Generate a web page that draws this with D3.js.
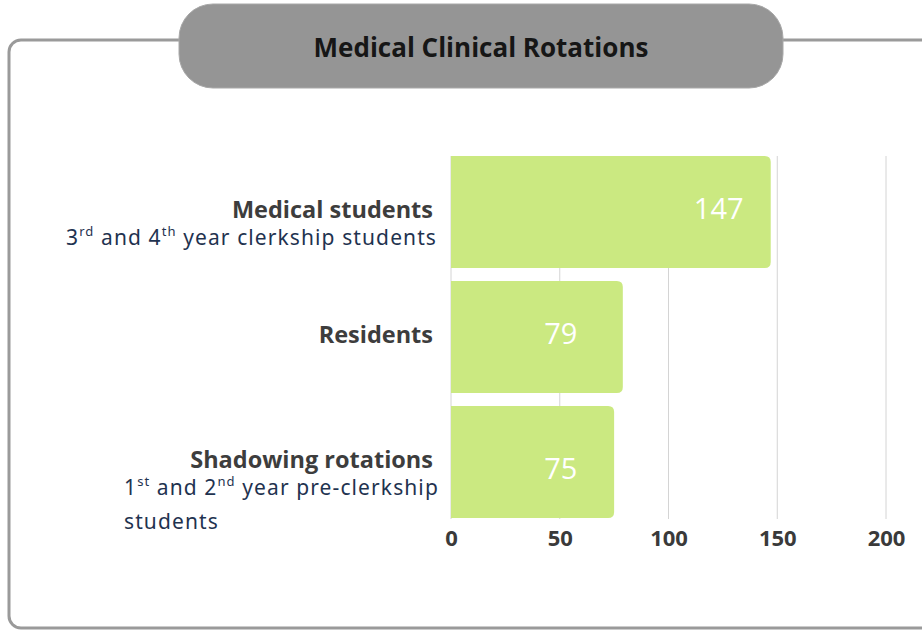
<!DOCTYPE html>
<html><head><meta charset="utf-8">
<script src="https://cdn.jsdelivr.net/npm/d3@7"></script>
<style>
html,body{margin:0;padding:0;background:#fff;overflow:hidden}
svg{display:block}
</style></head>
<body>
<svg id="c" width="922" height="630"></svg>
<script>
const title = "Medical Clinical Rotations";
const categories = ["Medical students", "Residents", "Shadowing rotations"];
const subLabels = [
  [["3", "rd"], [" and 4", "th"], [" year clerkship students", ""]],
  [],
  [["1", "st"], [" and 2", "nd"], [" year pre-clerkship", ""]]
];
const subLabelsLine2 = ["", "", "students"];
const values = [147, 79, 75];
const tickValues = [0, 50, 100, 150, 200];

const svg = d3.select("#c");

// frame
svg.append("rect").attr("x", 9).attr("y", 40).attr("width", 925).attr("height", 588)
  .attr("rx", 12).attr("fill", "none").attr("stroke", "#9a9a9a").attr("stroke-width", 3);

// title pill
svg.append("rect").attr("x", 179).attr("y", 4).attr("width", 604).attr("height", 84)
  .attr("rx", 34).attr("fill", "#959595").attr("stroke", "#a8a8a8").attr("stroke-width", 1);
svg.append("text").attr("x", 481).attr("y", 57).attr("text-anchor", "middle")
  .attr("font-family", "'Open Sans', sans-serif").attr("font-weight", 700)
  .attr("font-size", 26).attr("fill", "#161616").text(title);

const x = d3.scaleLinear().domain([0, 200]).range([451, 886]);
const y = d3.scaleBand().domain(categories).range([156, 518]).paddingInner(0.104).paddingOuter(0);

// gridlines
svg.append("g").selectAll("line").data(tickValues).join("line")
  .attr("x1", d => x(d)).attr("x2", d => x(d))
  .attr("y1", 156).attr("y2", 519)
  .attr("stroke", "#d4d4d4").attr("stroke-width", 1);

// bars (rounded on right only)
const r = 6;
function barPath(d, i) {
  const x0 = x(0), x1 = x(d), y0 = y(categories[i]), h = y.bandwidth();
  return `M${x0},${y0}H${x1 - r}Q${x1},${y0} ${x1},${y0 + r}V${y0 + h - r}Q${x1},${y0 + h} ${x1 - r},${y0 + h}H${x0}Z`;
}
svg.append("g").selectAll("path").data(values).join("path")
  .attr("d", barPath).attr("fill", "#cbe981");

// value labels
svg.append("g").selectAll("text").data(values).join("text")
  .attr("x", d => d > 100 ? x(d) - 52 : x(50) + 1)
  .attr("y", (d, i) => y(categories[i]) + y.bandwidth() / 2 + 7 + (i === categories.length - 1 ? 10 : 0))
  .attr("text-anchor", "middle")
  .attr("font-family", "'Open Sans', sans-serif").attr("font-size", 29)
  .attr("fill", "#ffffff").text(d => d);

// x axis
const axis = d3.axisBottom(x).tickValues(tickValues).tickSize(0).tickPadding(0);
const ag = svg.append("g").attr("transform", "translate(0,530)").call(axis);
ag.select(".domain").remove();
ag.selectAll("text").attr("font-family", "'Open Sans', sans-serif").attr("font-weight", 700)
  .attr("font-size", 22).attr("fill", "#3a3a3a").attr("dy", "0.71em");

// category labels
const subFont = { family: "'Noto Sans', sans-serif", size: 21, spacing: 1.1, color: "#1f3350" };
const lg = svg.append("g");
categories.forEach((c, i) => {
  const cy = y(c) + y.bandwidth() / 2;
  const hasSub = subLabels[i].length > 0;
  lg.append("text").attr("x", 433).attr("y", cy + 6)
    .attr("text-anchor", "end")
    .attr("font-family", "'Open Sans', sans-serif").attr("font-weight", 700)
    .attr("font-size", 23.5).attr("fill", "#3d3d3d").text(c);
  if (hasSub) {
    const line2 = subLabelsLine2[i];
    const t = lg.append("text")
      .attr("font-family", subFont.family).attr("font-size", subFont.size)
      .attr("letter-spacing", subFont.spacing).attr("fill", subFont.color)
      .attr("y", cy + 33);
    if (line2) { t.attr("x", 124).attr("text-anchor", "start"); }
    else { t.attr("x", 437).attr("text-anchor", "end"); }
    let pendingDy = 0;
    subLabels[i].forEach(([base, sup]) => {
      t.append("tspan").attr("dy", pendingDy).text(base);
      pendingDy = 0;
      if (sup) {
        t.append("tspan").attr("font-size", 13).attr("dy", -9).text(sup);
        pendingDy = 9;
      }
    });
    if (line2) {
      lg.append("text").attr("x", 124).attr("y", cy + 67)
        .attr("font-family", subFont.family).attr("font-size", subFont.size)
        .attr("letter-spacing", subFont.spacing).attr("fill", subFont.color).text(line2);
    }
  }
});
</script>
</body></html>
